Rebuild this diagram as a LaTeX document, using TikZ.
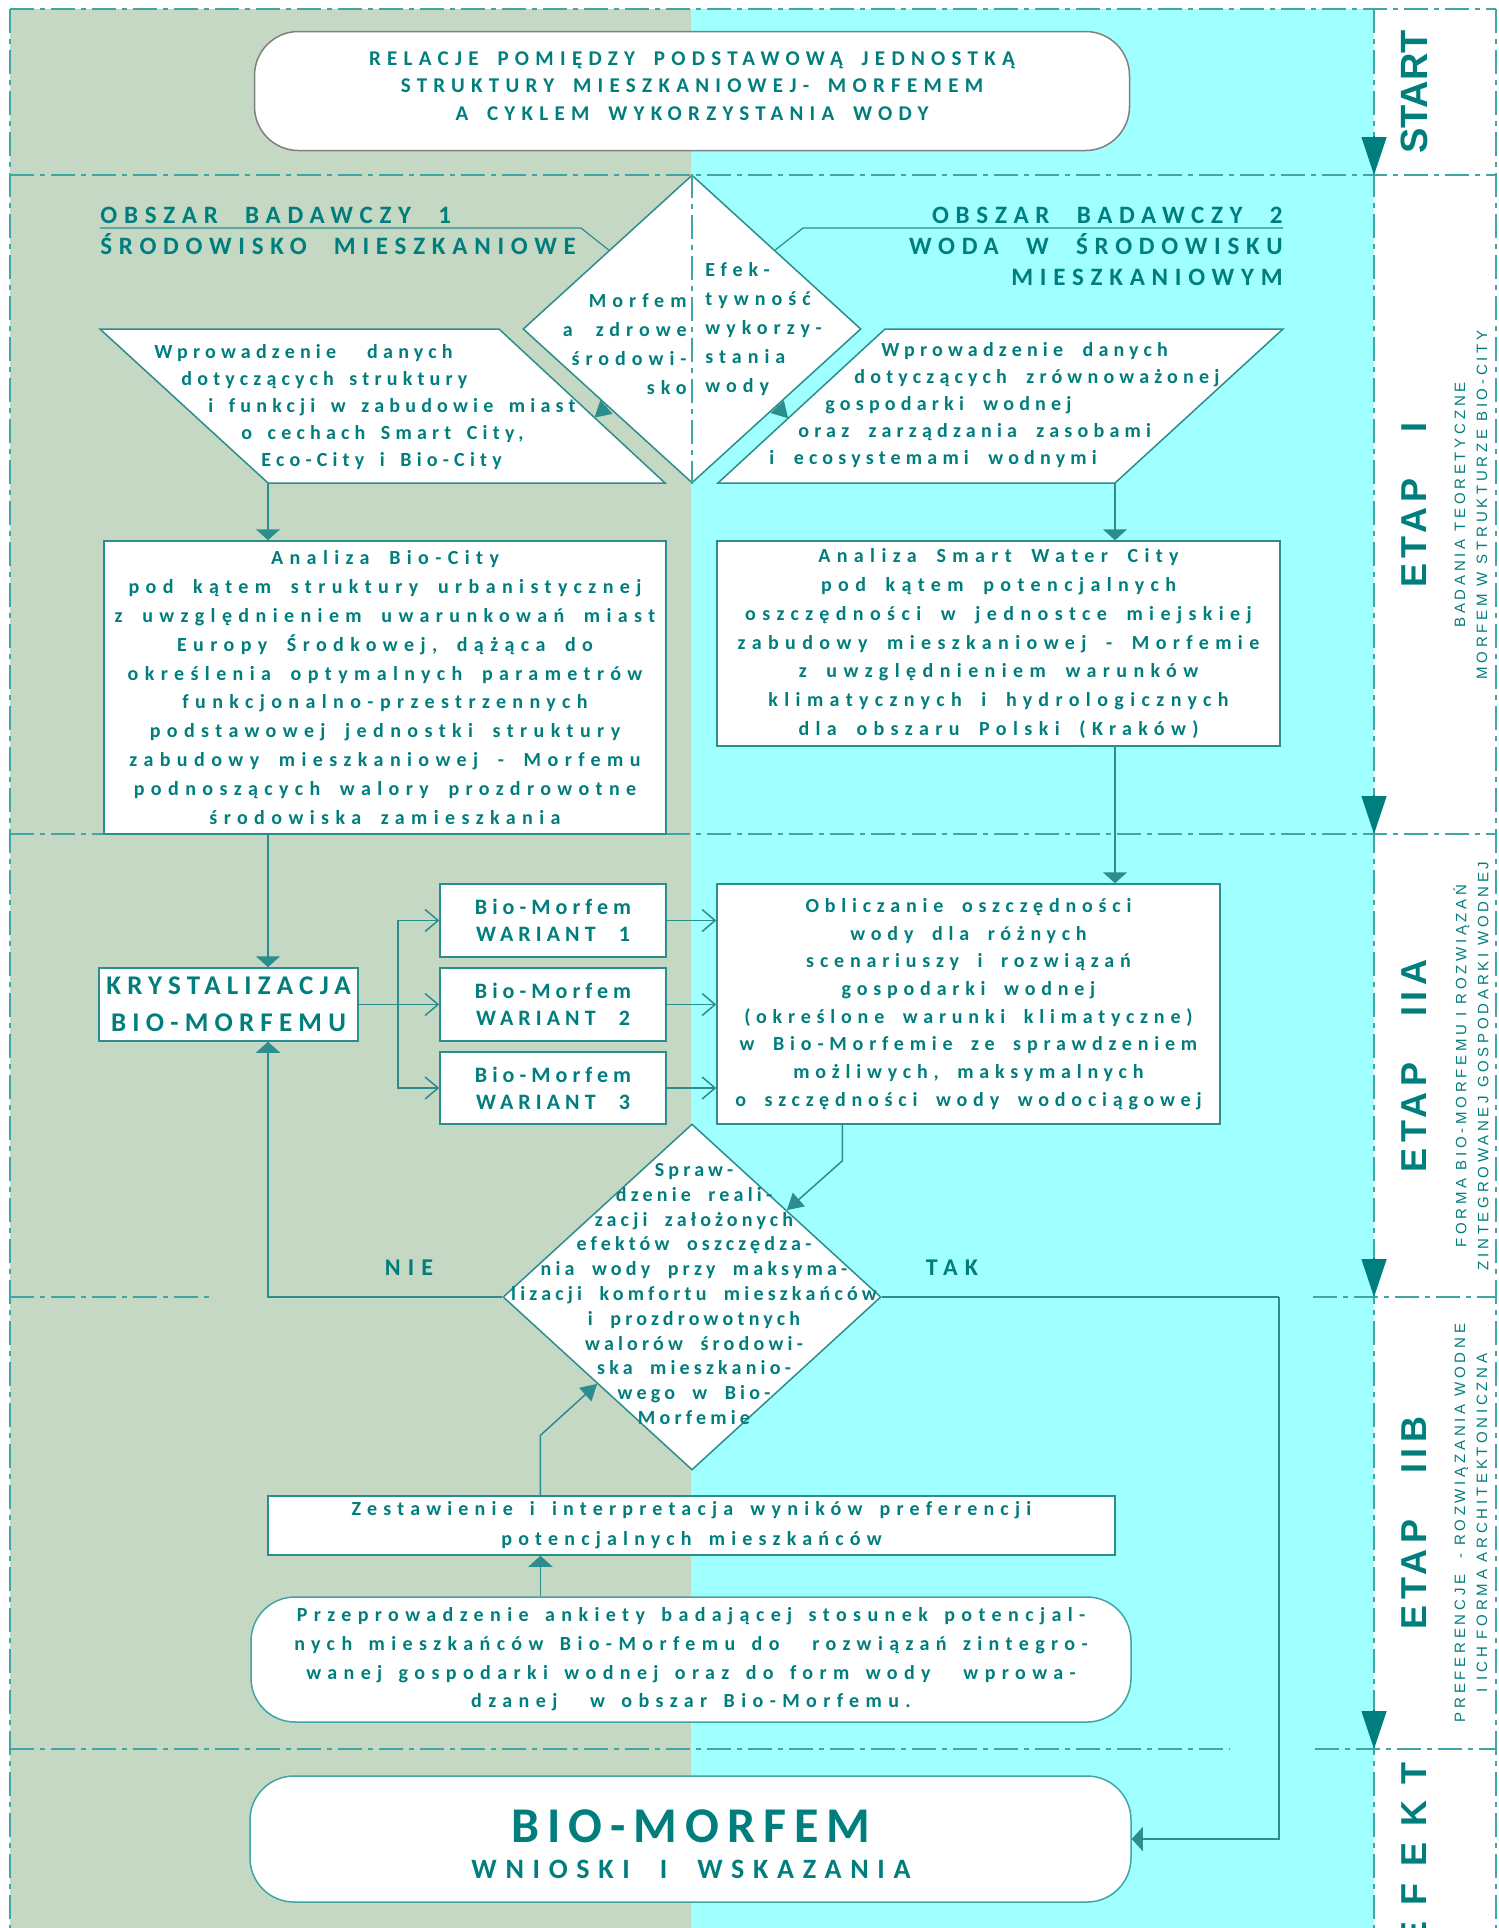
\documentclass[tikz,border=0pt]{standalone}
\usepackage{fontspec}
\setmainfont{Carlito}
\newfontfamily\spaced{Carlito}
\newfontfamily\etapfont{Liberation Sans}
\usetikzlibrary{shapes.geometric,arrows.meta,calc,positioning}

\definecolor{tealtxt}{HTML}{007D7D}
\definecolor{tealln}{HTML}{2B8D8D}
\definecolor{bandln}{HTML}{3FA5A5}
\definecolor{greenbg}{HTML}{C4D8C4}
\definecolor{cyanbg}{HTML}{A0FFFF}

% font: [word space] size, leading, letter spacing
\newcommand\tsz[4][2.2]{\spaced\bfseries\fontsize{#2}{#3}\selectfont\addfontfeatures{LetterSpace=#4}\spaceskip=#1\fontdimen2\font\relax\xspaceskip=\spaceskip\relax}
\newcommand\etapsz[2]{\etapfont\bfseries\fontsize{#1}{22}\selectfont\addfontfeatures{LetterSpace=#2}\spaceskip=3\fontdimen2\font\relax}

\tikzset{
  band/.style={draw=bandln, line width=0.6pt, dash pattern=on 12pt off 3pt on 2.5pt off 3pt},
  box/.style={draw=tealln, line width=0.75pt, fill=white, inner sep=0pt, text=tealtxt, align=center, font={\tsz[1.8]{10}{14.4}{32}}},
  capsule/.style={box, rounded corners=22pt},
  txt/.style={text=tealtxt, inner sep=0pt, font={\tsz{10}{14.5}{30}}},
  head/.style={txt, font={\tsz[2.2]{12.5}{15.5}{27}}},
  conn/.style={draw=tealln, line width=0.75pt},
  arr/.style={conn, -{Triangle[width=12pt,length=5.5pt]}},
  slant/.style={conn, -{Triangle[width=9pt,length=8pt]}},
  openarr/.style={conn, -{Straight Barb[width=11pt,length=6.5pt]}},
  lanearr/.style={draw=tealtxt, line width=0.6pt, -{Triangle[width=12.5pt,length=19pt]}},
  stage/.style={text=tealtxt, rotate=90, inner sep=0pt, font={\etapsz{18}{15}}},
  stagenote/.style={text=tealtxt, rotate=90, inner sep=0pt, align=center, font=\etapfont\fontsize{7.5}{11}\selectfont\addfontfeatures{LetterSpace=25}},
}

\begin{document}
\begin{tikzpicture}[x=0.5pt,y=-0.5pt]
\useasboundingbox (0,0) rectangle (1499,1928);
\clip (0,0) rectangle (1499,1928);

% lanes
\fill[greenbg] (10,9) rectangle (691,1928);
\fill[cyanbg] (691,9) rectangle (1374,1928);
\draw[band] (10,9) -- (1496,9);
\draw[band] (10,175) -- (1496,175);
\draw[band] (10,834) -- (1496,834);
\draw[band] (10,1297) -- (212,1297);
\draw[band] (1313,1297) -- (1496,1297);
\draw[band] (10,1749) -- (1230,1749);
\draw[band] (1315,1749) -- (1496,1749);
\draw[band] (10,9) -- (10,1928);
\draw[band] (1374,9) -- (1374,1928);
\draw[band] (1496,9) -- (1496,1928);
\foreach \y in {175,834,1297,1749}
  \draw[lanearr] (1374,\y-39) -- (1374,\y);

% start
\node[capsule, draw=gray, minimum width=437.5pt, minimum height=59.5pt] (title) at (692,91) {};
\node[txt, align=center, font={\tsz[1.7]{10.5}{13.75}{30}}] (titletxt) at (692,86) {RELACJE POMIĘDZY PODSTAWOWĄ JEDNOSTKĄ\\STRUKTURY MIESZKANIOWEJ- MORFEMEM\\A CYKLEM WYKORZYSTANIA WODY};

% etap I
\node[diamond, draw=tealln, line width=0.75pt, fill=white, minimum width=169pt, minimum height=154pt, inner sep=0pt] (d1) at (692,329) {};
\draw[band] (d1.north) -- (d1.south);
\node[txt, anchor=east, align=right] (d1l) at (687,344) {Morfem\\a zdrowe\\środowi-\\sko};
\node[txt, anchor=west, align=left] (d1r) at (705,329) {Efek-\\tywność\\wykorzy-\\stania\\wody};

\node[head, anchor=base west] (h1a) at (100,223) {OBSZAR BADAWCZY 1};
\node[head, anchor=base west] (h1b) at (100,254) {ŚRODOWISKO MIESZKANIOWE};
\node[head, anchor=base east] (h2a) at (1283,223) {OBSZAR BADAWCZY 2};
\node[head, anchor=base east] (h2b) at (1283,254) {WODA W ŚRODOWISKU};
\node[head, anchor=base east] (h2c) at (1283,285) {MIESZKANIOWYM};
\coordinate (u1a) at (100,228);
\coordinate (u1b) at (581,228);
\coordinate (u2a) at (1283,228);
\coordinate (u2b) at (803,228);
\draw[conn, line width=0.6pt] (u1a) -- (u1b) -- ($(d1.north)!0.49!(d1.west)$);
\draw[conn, line width=0.6pt] (u2a) -- (u2b) -- ($(d1.north)!0.49!(d1.east)$);

\coordinate (p1a) at (100,329);
\coordinate (p1b) at (499,329);
\coordinate (p1c) at (665,483);
\coordinate (p1d) at (268,483);
\draw[conn, fill=white] (p1a) -- (p1b) -- (p1c) -- (p1d) -- cycle;
\node[txt, anchor=west, align=left, font={\tsz[1.6]{10}{13.5}{26}}] (p1t) at (154,407) {Wprowadzenie~~danych\\\hspace*{13.5pt}dotyczących struktury\\\hspace*{27pt}i funkcji w zabudowie miast\\\hspace*{43.5pt}o cechach Smart City,\\\hspace*{53.5pt}Eco-City i Bio-City};

\coordinate (p2a) at (885,329);
\coordinate (p2b) at (1283,329);
\coordinate (p2c) at (1115,483);
\coordinate (p2d) at (718,483);
\draw[conn, fill=white] (p2a) -- (p2b) -- (p2c) -- (p2d) -- cycle;
\node[txt, anchor=west, align=left, font={\tsz[2]{10}{13.5}{26}}] (p2t) at (769,405) {\hspace*{56pt}Wprowadzenie danych\\\hspace*{42.5pt}dotyczących zrównoważonej\\\hspace*{28pt}gospodarki wodnej\\\hspace*{14.5pt}oraz zarządzania zasobami\\i ecosystemami wodnymi};

\draw[slant] ($(d1.west)!0.5!(d1.south)$) -- ($(p1b)!0.575!(p1c)$);
\draw[slant] ($(d1.east)!0.5!(d1.south)$) -- ($(p2a)!0.58!(p2d)$);

\node[box, minimum width=281pt, minimum height=146.5pt] (ana1) at (385,687.5) {Analiza Bio-City\\pod kątem struktury urbanistycznej\\z uwzględnieniem uwarunkowań miast\\Europy Środkowej, dążąca do\\określenia optymalnych parametrów\\funkcjonalno-przestrzennych\\podstawowej jednostki struktury\\zabudowy mieszkaniowej - Morfemu\\podnoszących walory prozdrowotne\\środowiska zamieszkania};
\node[box, minimum width=281.5pt, minimum height=102.5pt] (ana2) at (998.5,643.5) {Analiza Smart Water City\\pod kątem potencjalnych\\oszczędności w jednostce miejskiej\\zabudowy mieszkaniowej - Morfemie\\z uwzględnieniem warunków\\klimatycznych i hydrologicznych\\dla obszaru Polski (Kraków)};
\draw[arr] (p1d) -- (p1d |- ana1.north);
\draw[arr] (p2c) -- (p2c |- ana2.north);

% etap IIA
\node[box, minimum width=129.5pt, minimum height=36.5pt, font={\tsz{13.5}{18.5}{23}}] (kryst) at (228.5,1004.5) {KRYSTALIZACJA\\BIO-MORFEMU};
\node[box, minimum width=113pt, minimum height=36.5pt, font={\tsz[2.3]{11}{13.5}{23}}] (bm1) at (553,920.5) {Bio-Morfem\\WARIANT 1};
\node[box, minimum width=113pt, minimum height=36.5pt, font={\tsz[2.3]{11}{13.5}{23}}] (bm2) at (553,1004.5) {Bio-Morfem\\WARIANT 2};
\node[box, minimum width=113pt, minimum height=36pt, font={\tsz[2.3]{11}{13.5}{23}}] (bm3) at (553,1088) {Bio-Morfem\\WARIANT 3};
\node[box, minimum width=251.5pt, minimum height=120pt, font={\tsz[1.8]{10}{13.85}{29}}] (obl) at (968.5,1004) {Obliczanie oszczędności\\wody dla różnych\\scenariuszy i rozwiązań\\gospodarki wodnej\\(określone warunki klimatyczne)\\w Bio-Morfemie ze sprawdzeniem\\możliwych, maksymalnych\\o szczędności wody wodociągowej};

\draw[arr] (ana1.south -| p1d) -- (kryst.north -| p1d);
\draw[arr] (ana2.south -| p2c) -- (obl.north -| p2c);
\coordinate (br) at (398,1004.5);
\draw[conn] (kryst.east) -- (br);
\draw[openarr] (br) |- (bm1.west);
\draw[openarr] (br) -- (bm2.west);
\draw[openarr] (br) |- (bm3.west);
\foreach \b in {bm1,bm2,bm3}
  \draw[openarr] (\b.east) -- (\b.east -| obl.west);

\node[diamond, draw=tealln, line width=0.75pt, fill=white, minimum width=189pt, minimum height=173pt, inner sep=0pt] (d2) at (692,1297) {};
\node[txt, align=center, font={\tsz[2]{10}{12.4}{21}}] (d2t) at (694,1294) {Spraw-\\dzenie reali-\\zacji założonych\\efektów oszczędza-\\nia wody przy maksyma-\\lizacji komfortu mieszkańców\\i prozdrowotnych\\walorów środowi-\\ska mieszkanio-\\wego w Bio-\\Morfemie};
\draw[slant] ($(obl.south west)!0.25!(obl.south east)$) -- ++(0,36) -- ($(d2.north)!0.5!(d2.east)$);

\node[head, font={\tsz{12}{14}{30}}] (nie) at (409,1268) {NIE};
\node[head, font={\tsz{12}{14}{30}}] (tak) at (952,1268) {TAK};
\draw[arr] (d2.west) -| (kryst.south -| p1d);

% etap IIB
\node[box, minimum width=423.5pt, minimum height=29.5pt, font={\tsz[1.6]{10}{15}{31}}] (zest) at (691.5,1525.5) {Zestawienie i interpretacja wyników preferencji\\potencjalnych mieszkańców};
\node[capsule, draw=bandln, minimum width=440pt, minimum height=62.5pt, font={\tsz[1.5]{10}{14.3}{32}}] (ank) at (691,1659.5) {Przeprowadzenie ankiety badającej stosunek potencjal-\\nych mieszkańców Bio-Morfemu do~~rozwiązań zintegro-\\wanej gospodarki wodnej oraz do form wody~~wprowa-\\dzanej~~w obszar Bio-Morfemu.};
\coordinate (zx) at ($(zest.north west)!0.322!(zest.north east)$);
\draw[arr] (ank.north -| zx) -- (zest.south -| zx);
\draw[slant] (zx) -- ++(0,-60) -- ($(d2.west)!0.5!(d2.south)$);

% efekt
\node[capsule, draw=bandln, minimum width=440.5pt, minimum height=63pt] (wyn) at (690.5,1839) {};
\node[txt, font={\tsz{25}{28}{16}}] (wyn1) at (691,1826) {BIO-MORFEM};
\node[txt, font={\tsz[2]{14}{16}{31}}] (wyn2) at (691,1869) {WNIOSKI I WSKAZANIA};
\coordinate (tk) at (1279,1297);
\draw[conn] (d2.east) -- (tk);
\draw[arr] (tk) |- (wyn.east);

% side column
\node[stage, font={\etapsz{19}{0}}] (s0) at (1414,92) {START};
\node[stage] (s1) at (1414,505) {ETAP I};
\node[stagenote] (n1) at (1471,505) {BADANIA TEORETYCZNE\\MORFEM W STRUKTURZE BIO-CITY};
\node[stage] (s2) at (1414,1066) {ETAP IIA};
\node[stagenote] (n2) at (1471,1066) {FORMA BIO-MORFEMU I ROZWIĄZAŃ\\ZINTEGROWANEJ GOSPODARKI WODNEJ};
\node[stage] (s3) at (1414,1523) {ETAP IIB};
\node[stagenote] (n3) at (1471,1523) {PREFERENCJE~~- ROZWIĄZANIA WODNE\\I ICH FORMA ARCHITEKTONICZNA};
\node[stage, anchor=east, font={\etapsz{18}{45}}] (s4) at (1414,1762) {EFEKT};
\end{tikzpicture}
\end{document}
